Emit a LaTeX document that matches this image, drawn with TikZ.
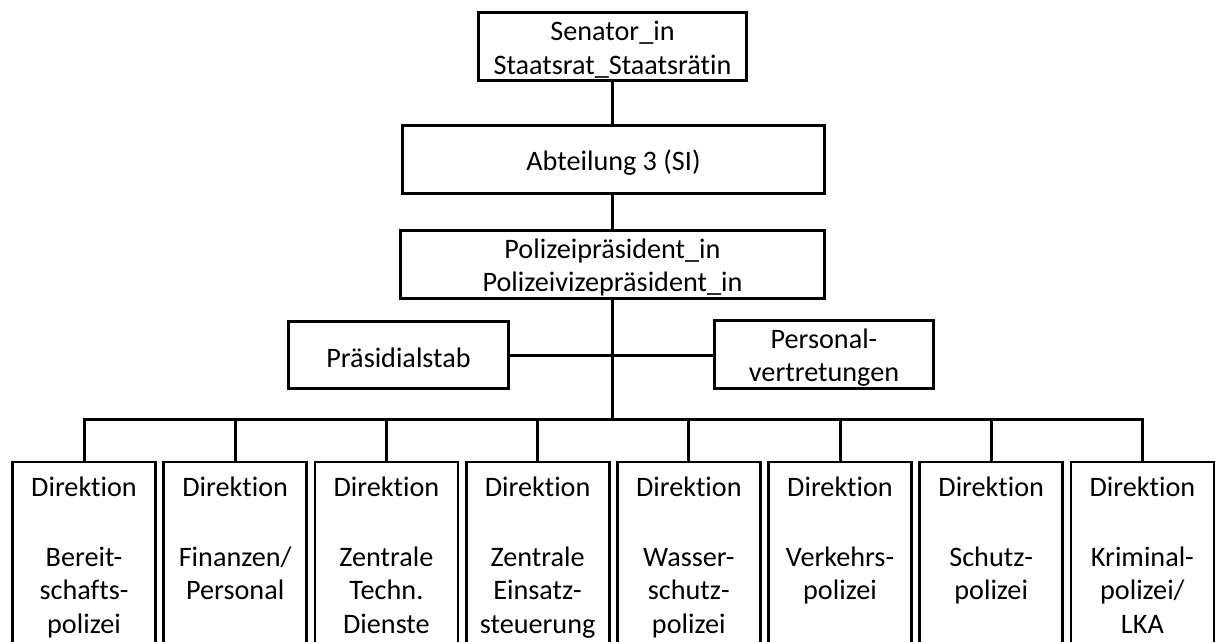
\documentclass[tikz,border=0pt]{standalone}
\usepackage{fontspec}
\setmainfont{Carlito}[Ligatures={NoCommon}]
\newcommand\orgfont{\fontsize{28.2}{33.5}\selectfont}
\tikzset{
  orgbox/.style={draw, line width=2.8pt, inner sep=0pt},
  orgtext/.style={inner sep=0pt, align=center, font=\orgfont, yshift=-3pt},
  dirbox/.style={draw, line width=2.8pt, inner sep=0pt, minimum width=143, minimum height=190},
  dirtext/.style={inner sep=0pt, text width=143, align=center, font=\orgfont, anchor=base},
  conn/.style={line width=3pt, line join=miter},
}
\begin{document}
\begin{tikzpicture}[x=1pt,y=-1pt]
\clip (0,0) rectangle (1216,642);
\fill[white] (0,0) rectangle (1216,642);
% upper hierarchy
\node[orgbox, minimum width=268, minimum height=68] (sen) at (612.5,46.5) {};
\node[orgtext] (sentext) at (sen.center) {Senator\_in\\Staatsrat\_Staatsrätin};
\node[orgbox, minimum width=422, minimum height=68] (abt) at (613.5,159.5) {};
\node[orgtext] (abttext) at (abt.center) {Abteilung 3 (SI)};
\node[orgbox, minimum width=424, minimum height=68] (pol) at (612.5,264.5) {};
\node[orgtext] (poltext) at (pol.center) {Polizeipräsident\_in\\Polizeivizepräsident\_in};
\node[orgbox, minimum width=220, minimum height=67] (stab) at (398.5,355) {};
\node[orgtext] (stabtext) at (stab.center) {Präsidialstab};
\node[orgbox, minimum width=219, minimum height=68] (pers) at (824,354.5) {};
\node[orgtext] (perstext) at (pers.center) {Personal-\\vertretungen};
\coordinate (bus) at (612.5,419);
% directorates
\foreach \i/\t in {1/{Bereit-\\schafts-\\polizei},
                   2/{Finanzen/\\Personal},
                   3/{Zentrale\\Techn.\\Dienste},
                   4/{Zentrale\\Einsatz-\\steuerung},
                   5/{Wasser-\\schutz-\\polizei},
                   6/{Verkehrs-\\polizei},
                   7/{Schutz-\\polizei},
                   8/{Kriminal-\\polizei/\\LKA}} {
  \pgfmathsetmacro{\cx}{84+(\i-1)*151.2}
  \node[dirbox] (d\i) at (\cx,557) {};
  \node[dirtext] (t\i) at (\cx,496) {Direktion\\[36.5pt]\t};
}
% connectors
\draw[conn] (sen.south) -- (sen.south |- abt.north);
\draw[conn] (pol.north |- abt.south) -- (pol.north);
\draw[conn] (pol.south) -- (bus);
\draw[conn] (stab.east) -- (stab.east -| pers.west);
\draw[conn] (d1.north) |- (bus) -| (d8.north);
\foreach \i in {2,...,7} {
  \draw[conn] (d\i.north) -- (d\i.north |- bus);
}
\end{tikzpicture}
\end{document}
